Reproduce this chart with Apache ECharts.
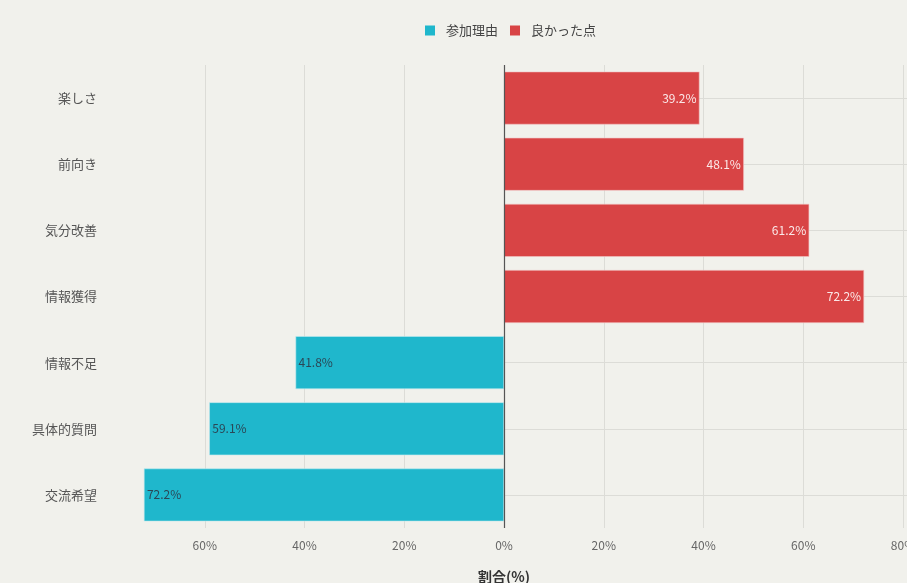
<!DOCTYPE html>
<html>
<head>
<meta charset="utf-8">
<script src="https://cdn.jsdelivr.net/npm/echarts@6/dist/echarts.min.js"></script>
<style>
  html, body { margin: 0; padding: 0; background: #f1f1ec; }
  #chart { width: 907px; height: 583px; }
</style>
</head>
<body>
<div id="chart"></div>
<script>
// Categories, listed bottom to top
const categories = ['交流希望', '具体的質問', '情報不足', '情報獲得', '気分改善', '前向き', '楽しさ'];
// 参加理由 (drawn to the left as negative shares, %)
const reasonValues = [-72.2, -59.1, -41.8, null, null, null, null];
// 良かった点 (drawn to the right, %)
const goodValues = [null, null, null, 72.2, 61.2, 48.1, 39.2];
// Tick values shown on the share axis
const tickValues = [-60, -40, -20, 0, 20, 40, 60, 80];

const FONT = '"Noto Sans CJK JP", "Noto Sans", sans-serif';
const chart = echarts.init(document.getElementById('chart'));

chart.setOption({
  backgroundColor: '#f1f1ec',
  textStyle: { fontFamily: FONT },
  legend: {
    top: 19,
    left: 420,
    itemWidth: 10,
    itemHeight: 10,
    itemGap: 12,
    icon: 'rect',
    itemStyle: { borderWidth: 0 },
    textStyle: { fontSize: 13, color: '#444', fontFamily: FONT, padding: [0, 0, 0, 6] },
    data: ['参加理由', '良かった点']
  },
  grid: { left: 105, right: 4, top: 65, bottom: 55, containLabel: false, outerBoundsMode: 'none' },
  xAxis: {
    type: 'value',
    min: -80,
    max: 80,
    interval: 20,
    name: '割合(%)',
    nameLocation: 'middle',
    nameGap: 42,
    nameTextStyle: { fontSize: 14, fontWeight: 'bold', color: '#333', fontFamily: FONT },
    axisLine: { show: false },
    axisTick: { show: false },
    axisLabel: {
      fontSize: 12,
      color: '#666',
      margin: 11,
      fontFamily: FONT,
      formatter: v => (tickValues.indexOf(v) >= 0 ? Math.abs(v) + '%' : '')
    },
    splitLine: { show: true, showMinLine: false, lineStyle: { color: '#dcdcd7', width: 1 } }
  },
  yAxis: {
    type: 'category',
    data: categories,
    axisLine: { show: false },
    axisTick: {
      show: true,
      alignWithLabel: true,
      inside: true,
      length: 800,
      lineStyle: { color: '#dcdcd7', width: 1 }
    },
    axisLabel: { fontSize: 13, color: '#555', margin: 8, fontFamily: FONT },
    splitLine: { show: false }
  },
  series: [
    {
      name: '参加理由',
      type: 'bar',
      stack: 'share',
      data: reasonValues,
      barCategoryGap: '20%',
      itemStyle: { color: '#1fb7cc', borderColor: '#bfe9ef', borderWidth: 0.6 },
      label: {
        show: true,
        position: 'insideLeft',
        distance: 3,
        fontSize: 12,
        color: '#2b4756',
        fontFamily: FONT,
        formatter: p => Math.abs(p.value).toFixed(1) + '%'
      },
      markLine: {
        silent: true,
        symbol: 'none',
        label: { show: false },
        lineStyle: { color: '#555', width: 1.2, type: 'solid' },
        data: [{ xAxis: 0 }]
      }
    },
    {
      name: '良かった点',
      type: 'bar',
      stack: 'share',
      data: goodValues,
      barCategoryGap: '20%',
      itemStyle: { color: '#d84445', borderColor: '#f1c4c4', borderWidth: 0.6 },
      label: {
        show: true,
        position: 'insideRight',
        distance: 3,
        fontSize: 12,
        color: '#fbe9e9',
        fontFamily: FONT,
        formatter: p => p.value.toFixed(1) + '%'
      }
    }
  ]
});
</script>
</body>
</html>
